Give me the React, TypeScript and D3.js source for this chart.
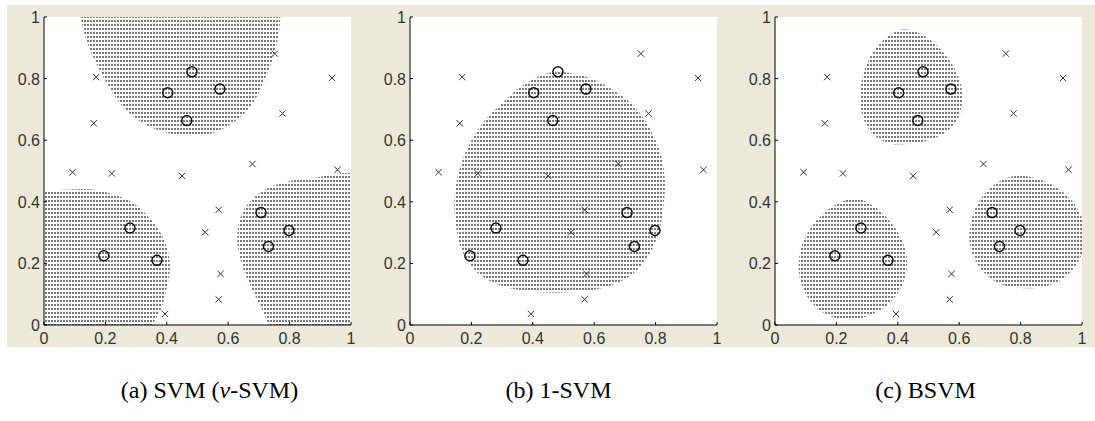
import React from "react";
import * as d3 from "d3";

const xTicks = [0, 0.2, 0.4, 0.6, 0.8, 1];
const yTicks = [0, 0.2, 0.4, 0.6, 0.8, 1];

const circlePoints: [number, number][] = [
  [0.482, 0.822], [0.403, 0.754], [0.573, 0.766], [0.465, 0.664],
  [0.28, 0.315], [0.195, 0.225], [0.368, 0.21],
  [0.707, 0.365], [0.731, 0.255], [0.798, 0.307],
];

const crossPoints: [number, number][] = [
  [0.17, 0.805], [0.162, 0.655], [0.093, 0.496], [0.221, 0.492], [0.45, 0.484],
  [0.569, 0.374], [0.525, 0.301], [0.575, 0.166], [0.569, 0.083], [0.394, 0.036],
  [0.679, 0.523], [0.752, 0.881], [0.777, 0.687], [0.938, 0.802], [0.956, 0.504],
];

// panel (a): SVM regions
const svmTop: [number, number][] = [
  [0.12, 1.06], [0.12, 1.0], [0.14, 0.92], [0.18, 0.83], [0.24, 0.73], [0.3, 0.67],
  [0.38, 0.63], [0.46, 0.615], [0.54, 0.62], [0.62, 0.66], [0.68, 0.72],
  [0.72, 0.8], [0.75, 0.88], [0.765, 0.95], [0.77, 1.0], [0.77, 1.06],
];
const svmBottomLeft: [number, number][] = [
  [-0.06, 0.43], [0.0, 0.435], [0.08, 0.44], [0.16, 0.44], [0.24, 0.42], [0.3, 0.39],
  [0.35, 0.34], [0.39, 0.28], [0.41, 0.2], [0.4, 0.12], [0.38, 0.05], [0.355, 0.0],
  [0.35, -0.06], [-0.06, -0.06],
];
const svmBottomRight: [number, number][] = [
  [0.73, -0.06], [0.73, 0.0], [0.69, 0.09], [0.65, 0.18], [0.63, 0.27], [0.64, 0.35],
  [0.67, 0.4], [0.72, 0.44], [0.79, 0.465], [0.86, 0.475], [1.06, 0.475], [1.06, -0.06],
];

// panel (b): 1-SVM region
const oneSvmRegion: [number, number][] = [
  [0.46, 0.82], [0.56, 0.81], [0.65, 0.77], [0.73, 0.71], [0.78, 0.64], [0.815, 0.56],
  [0.83, 0.47], [0.825, 0.38], [0.81, 0.3], [0.78, 0.23], [0.73, 0.17], [0.66, 0.13],
  [0.57, 0.11], [0.47, 0.105], [0.38, 0.11], [0.29, 0.13], [0.22, 0.17], [0.17, 0.24],
  [0.15, 0.32], [0.145, 0.41], [0.16, 0.5], [0.19, 0.58], [0.24, 0.66], [0.3, 0.72],
  [0.37, 0.78],
];

// panel (c): BSVM regions
const bsvmTop: [number, number][] = [
  [0.42, 0.96], [0.5, 0.93], [0.56, 0.87], [0.6, 0.8], [0.61, 0.73], [0.59, 0.66],
  [0.53, 0.61], [0.45, 0.59], [0.37, 0.59], [0.31, 0.63], [0.28, 0.7], [0.28, 0.78],
  [0.31, 0.87], [0.36, 0.93],
];
const bsvmBottomLeft: [number, number][] = [
  [0.27, 0.41], [0.33, 0.38], [0.38, 0.33], [0.42, 0.26], [0.43, 0.19], [0.41, 0.12],
  [0.36, 0.06], [0.29, 0.025], [0.22, 0.018], [0.15, 0.045], [0.1, 0.1], [0.078, 0.17],
  [0.085, 0.25], [0.12, 0.32], [0.18, 0.38], [0.23, 0.405],
];
const bsvmBottomRight: [number, number][] = [
  [0.79, 0.485], [0.87, 0.47], [0.94, 0.43], [0.99, 0.37], [1.01, 0.3], [0.995, 0.22],
  [0.95, 0.16], [0.88, 0.125], [0.8, 0.12], [0.72, 0.14], [0.665, 0.19], [0.635, 0.26],
  [0.64, 0.34], [0.67, 0.41], [0.72, 0.46],
];

const panels = [
  { pre: "(a) SVM (", greek: "\u03bd", post: "-SVM)", left: 44, regions: [svmTop, svmBottomLeft, svmBottomRight], shift: 12 },
  { pre: "(b) 1-SVM", greek: "", post: "", left: 410, regions: [oneSvmRegion], shift: -5 },
  { pre: "(c) BSVM", greek: "", post: "", left: 775, regions: [bsvmTop, bsvmBottomLeft, bsvmBottomRight], shift: -3 },
];

const W = 1095;
const H = 421;
const PW = 307;
const TOP = 17;
const PH = 308;
const tickFont = "Liberation Sans, Arial, sans-serif";

function Panel({ p, idx }: { p: typeof panels[number]; idx: number }) {
  const x = d3.scaleLinear().domain([0, 1]).range([p.left, p.left + PW]);
  const y = d3.scaleLinear().domain([0, 1]).range([TOP + PH, TOP]);
  const smooth = d3
    .line<[number, number]>()
    .x((d) => x(d[0]))
    .y((d) => y(d[1]))
    .curve(d3.curveCatmullRomClosed.alpha(0.5));
  const clipId = `clip${idx}`;
  return (
    <g>
      <clipPath id={clipId}>
        <rect x={p.left} y={TOP} width={PW} height={PH} />
      </clipPath>
      <rect x={p.left} y={TOP} width={PW} height={PH} fill="#fff" />
      <g clipPath={`url(#${clipId})`}>
        {p.regions.map((r, i) => (
          <path key={i} d={smooth(r) || ""} fill="url(#dots)" />
        ))}
      </g>
      {crossPoints.map((d, i) => {
        const cx = x(d[0]);
        const cy = y(d[1]);
        const s = 3.2;
        return (
          <path
            key={"x" + i}
            d={`M${cx - s},${cy - s}L${cx + s},${cy + s}M${cx - s},${cy + s}L${cx + s},${cy - s}`}
            stroke="#333"
            strokeWidth={1}
            fill="none"
          />
        );
      })}
      {circlePoints.map((d, i) => (
        <circle key={"o" + i} cx={x(d[0])} cy={y(d[1])} r={5} fill="none" stroke="#111" strokeWidth={1.5} />
      ))}
      <line x1={p.left} x2={p.left} y1={TOP} y2={TOP + PH} stroke="#000" strokeWidth={1} />
      <line x1={p.left} x2={p.left + PW} y1={TOP + PH} y2={TOP + PH} stroke="#000" strokeWidth={1} />
      {xTicks.map((t) => (
        <g key={"xt" + t}>
          <line x1={x(t)} x2={x(t)} y1={TOP + PH} y2={TOP + PH - 3} stroke="#000" />
          <text
            x={x(t)}
            y={TOP + PH + 19}
            textAnchor="middle"
            fontSize={16}
            fontFamily={tickFont}
            fill="#333"
          >
            {String(t)}
          </text>
        </g>
      ))}
      {yTicks.map((t) => (
        <g key={"yt" + t}>
          <line x1={p.left} x2={p.left + 3} y1={y(t)} y2={y(t)} stroke="#000" />
          <text
            x={p.left - 4}
            y={y(t) + 6}
            textAnchor="end"
            fontSize={16}
            fontFamily={tickFont}
            fill="#333"
          >
            {String(t)}
          </text>
        </g>
      ))}
      <text
        x={p.left + PW / 2 + p.shift}
        y={398}
        textAnchor="middle"
        fontSize={24}
        fontFamily="Liberation Serif, Times New Roman, serif"
        fill="#000"
      >
        {p.pre}
        {p.greek ? <tspan fontStyle="italic">{p.greek}</tspan> : null}
        {p.post}
      </text>
    </g>
  );
}

export default function App() {
  return (
    <svg
      width={W}
      height={H}
      style={{ position: "absolute", left: 0, top: 0, display: "block", background: "#fff" }}
    >
      <defs>
        <pattern id="dots" width={3} height={4} patternUnits="userSpaceOnUse">
          <rect x={0} y={0} width={2} height={2} fill="#7a7a7a" />
        </pattern>
      </defs>
      <rect x={7} y={5} width={1088} height={342} fill="#ECE9D8" />
      {panels.map((p, i) => (
        <Panel key={i} p={p} idx={i} />
      ))}
    </svg>
  );
}
